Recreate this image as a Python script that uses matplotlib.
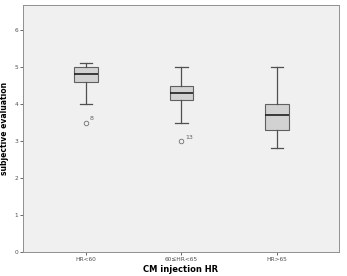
import matplotlib
matplotlib.use("Agg")
import matplotlib.pyplot as plt

# box statistics (subjective evaluation by HR group)
groups = ["HR<60", "60\u2264HR<65", "HR>65"]
whis_low = [4.0, 3.5, 2.8]
q1 = [4.6, 4.1, 3.3]
medians = [4.8, 4.3, 3.7]
q3 = [5.0, 4.5, 4.0]
whis_high = [5.1, 5.0, 5.0]
outliers = [[3.5], [3.0], []]
outlier_ids = [["8"], ["13"], []]

stats = []
for i, name in enumerate(groups):
    stats.append(dict(label=name, whislo=whis_low[i], q1=q1[i], med=medians[i],
                      q3=q3[i], whishi=whis_high[i], fliers=outliers[i]))

fig = plt.figure(figsize=(3.47, 2.76), dpi=100)
ax = fig.add_axes([0.066, 0.087, 0.911, 0.895])
ax.set_facecolor("#f0f0f0")

pos = list(range(len(groups)))
ax.bxp(stats, positions=pos, widths=0.25, patch_artist=True,
       boxprops=dict(facecolor="#d2d2d2", edgecolor="#606060", linewidth=0.8),
       medianprops=dict(color="#202020", linewidth=1.2),
       whiskerprops=dict(color="#505050", linewidth=0.9),
       capprops=dict(color="#505050", linewidth=0.9),
       capwidths=0.13,
       flierprops=dict(marker="o", markersize=3.3, markerfacecolor="none",
                       markeredgecolor="#707070", markeredgewidth=0.6))

for i in range(len(groups)):
    for val, lab in zip(outliers[i], outlier_ids[i]):
        ax.text(pos[i] + 0.04, val + 0.04, lab, fontsize=4.5, color="#606060",
                ha="left", va="bottom")

ax.set_xlim(-0.66, 2.65)
ax.set_ylim(0, 6.68)
ax.set_yticks([0, 1, 2, 3, 4, 5, 6])
ax.set_xticks(pos)
ax.set_xticklabels(groups)
ax.tick_params(axis="both", labelsize=4.2, colors="#505050", length=2.5, width=0.6, pad=1)

for s in ax.spines.values():
    s.set_color("#909090")
    s.set_linewidth(0.7)

ax.set_xlabel("CM injection HR", fontsize=6, fontweight="bold", labelpad=2)
ax.set_ylabel("subjective evaluation", fontsize=5.5, fontweight="bold", labelpad=4)

fig.savefig("out.png", dpi=100)
